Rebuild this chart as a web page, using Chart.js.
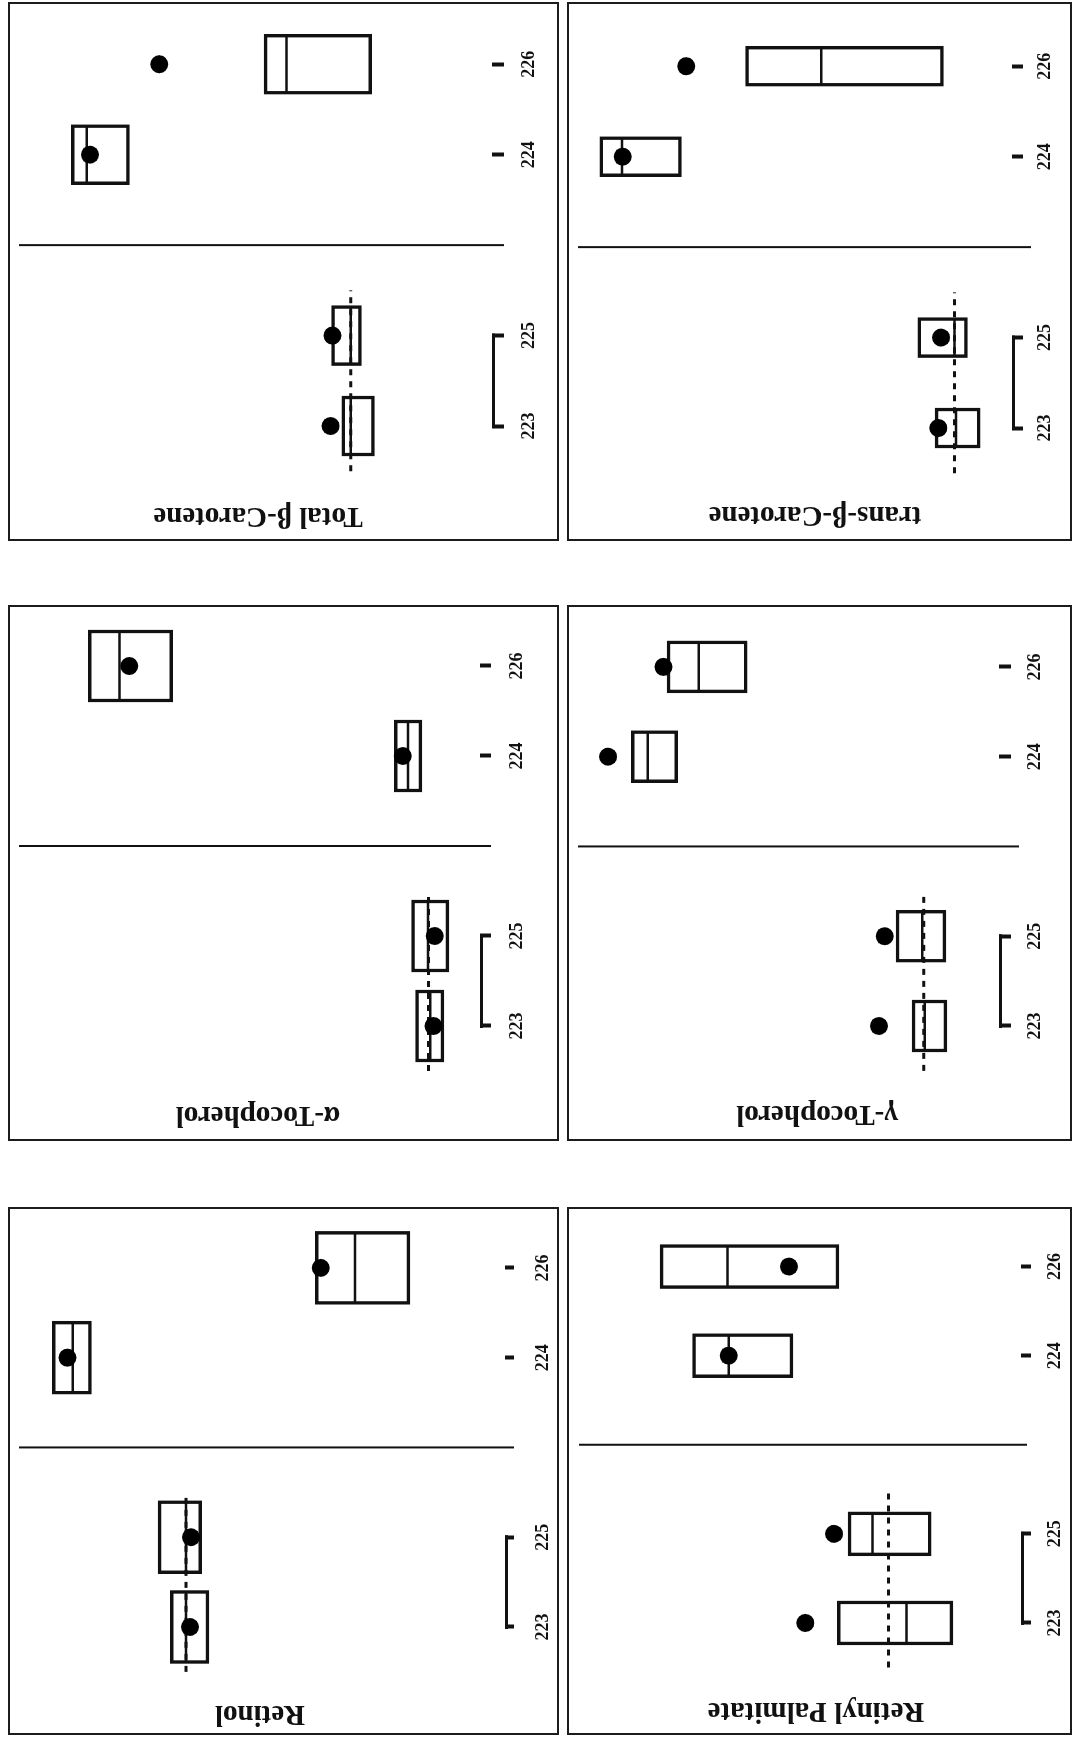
<!DOCTYPE html>
<html>
<head>
<meta charset="utf-8">
<script src="https://cdn.jsdelivr.net/npm/chart.js@4.4.1/dist/chart.umd.min.js"></script>
<style>
html, body { margin:0; padding:0; background:#fff; width:1075px; height:1738px; overflow:hidden; }
#page { position:absolute; left:0; top:0; width:1738px; height:1075px; transform-origin:0 0; transform:translate(0px,1738px) rotate(-90deg); }
.frame { position:absolute; border:2px solid #1c1c1c; box-sizing:border-box; }
.plot { position:absolute; }
</style>
</head>
<body>
<div id="page"></div>
<script>
// ---------- data ----------
const categories = ['223', '225', '224', '226'];
const groupA = ['223', '225'];
const groupB = ['224', '226'];
const tickLabels = [...groupA, '', ...groupB];

const titles = ['Retinol', 'α-Tocopherol', 'Total β-Carotene', 'Retinyl Palmitate', 'γ-Tocopherol', 'trans-β-Carotene'];

// values in relative units (0 = axis, 100 = top of plotting range), order = categories
const retinolLow    = [60.4, 61.9, 84.4, 19.4];
const retinolHigh   = [68.3, 70.8, 92.4, 38.7];
const retinolMedian = [65.1, 65.1, 88.2, 30.6];
const retinolMean   = [64.3, 64.1, 89.3, 37.6];
const retinolRef    = 65.1;

const alphaLow    = [8.1, 7.0, 13.1, 69.2];
const alphaHigh   = [14.5, 15.4, 19.3, 88.2];
const alphaMedian = [11.2, 11.7, 16.2, 81.2];
const alphaMean   = [10.5, 10.2, 17.4, 79.0];
const alphaRef    = 11.6;

const totalBetaLow    = [25.1, 27.9, 77.5, 25.7];
const totalBetaHigh   = [32.1, 34.3, 89.9, 48.7];
const totalBetaMedian = [30.2, 30.2, 86.6, 43.9];
const totalBetaMean   = [34.5, 34.1, 85.9, 71.1];
const totalBetaRef    = 30.2;

const palmitateLow    = [16.6, 21.9, 55.6, 44.4];
const palmitateHigh   = [44.8, 42.2, 80.1, 88.0];
const palmitateMedian = [27.9, 36.2, 71.3, 71.6];
const palmitateMean   = [52.6, 45.6, 71.3, 56.6];
const palmitateRef    = 32.3;

const gammaLow    = [14.3, 14.6, 88.3, 69.2];
const gammaHigh   = [23.9, 28.3, 101.0, 91.2];
const gammaMedian = [20.4, 21.1, 96.5, 82.5];
const gammaMean   = [33.0, 31.4, 107.4, 92.2];
const gammaRef    = 20.7;

const transBetaLow    = [8.1, 11.3, 83.9, 17.4];
const transBetaHigh   = [19.5, 23.9, 104.6, 67.6];
const transBetaMedian = [14.2, 14.6, 99.0, 48.4];
const transBetaMean   = [18.7, 18.0, 98.8, 82.7];
const transBetaRef    = 14.6;

const panels = [
  {title: titles[0], low: retinolLow,   high: retinolHigh,   median: retinolMedian,   mean: retinolMean,   ref: retinolRef},
  {title: titles[1], low: alphaLow,     high: alphaHigh,     median: alphaMedian,     mean: alphaMean,     ref: alphaRef},
  {title: titles[2], low: totalBetaLow, high: totalBetaHigh, median: totalBetaMedian, mean: totalBetaMean, ref: totalBetaRef},
  {title: titles[3], low: palmitateLow, high: palmitateHigh, median: palmitateMedian, mean: palmitateMean, ref: palmitateRef},
  {title: titles[4], low: gammaLow,     high: gammaHigh,     median: gammaMedian,     mean: gammaMean,     ref: gammaRef},
  {title: titles[5], low: transBetaLow, high: transBetaHigh, median: transBetaMedian, mean: transBetaMean, ref: transBetaRef}
];

// ---------- layout (page coordinates before the page is turned) ----------
const layouts = [
  {frame:[3, 8, 528, 551],     c0:111,  c4:470,  tx:24,   ty:260, axis:505,  tl:9,  lab:543,  sepTop:19,  sepBot:514,  boxW:73},
  {frame:[597, 8, 536, 551],   c0:712,  c4:1072, tx:623,  ty:258, axis:480,  tl:11, lab:517,  sepTop:19,  sepBot:491,  boxW:72},
  {frame:[1197, 8, 539, 551],  c0:1312, c4:1674, tx:1222, ty:258, axis:492,  tl:12, lab:529,  sepTop:19,  sepBot:504,  boxW:60},
  {frame:[3, 567, 528, 505],   c0:115,  c4:471,  tx:27,   ty:816, axis:1021, tl:10, lab:1055, sepTop:579, sepBot:1027, boxW:44},
  {frame:[597, 567, 536, 505], c0:712,  c4:1071, tx:624,  ty:817, axis:999,  tl:12, lab:1035, sepTop:578, sepBot:1019, boxW:52},
  {frame:[1197, 567, 539, 505],c0:1310, c4:1672, tx:1223, ty:815, axis:1012, tl:11, lab:1045, sepTop:578, sepBot:1031, boxW:40}
];

const INK = '#111';
const TITLE_SIZE = 29, LABEL_SIZE = 18;
const TITLE_LH = TITLE_SIZE * 1.2, LABEL_LH = LABEL_SIZE * 1.2;
Chart.defaults.font.family = "'Liberation Serif', 'DejaVu Serif', serif";

const withGap = arr => [...arr.slice(0, groupA.length), null, ...arr.slice(groupA.length)];

const panelDecor = {
  id: 'panelDecor',
  beforeDatasetsDraw(chart) {
    // marks may sit above the top of the (title-centred) plotting range: let them draw there
    chart._savedTop = chart.chartArea.top;
    chart.chartArea.top -= 200;
  },
  afterDatasetsDraw(chart) {
    chart.chartArea.top = chart._savedTop;
  },
  afterDraw(chart, args, opts) {
    const x = chart.scales.x;
    const ctx = chart.ctx;
    ctx.save();
    ctx.strokeStyle = INK;
    ctx.lineCap = 'butt';
    // separator between the two groups
    const gx = x.getPixelForValue(groupA.length);
    ctx.lineWidth = 2;
    ctx.beginPath();
    ctx.moveTo(gx, opts.sepTop);
    ctx.lineTo(gx, opts.sepBottom);
    ctx.stroke();
    // axis segment joining the first group
    const a0 = x.getPixelForValue(0), a1 = x.getPixelForValue(groupA.length - 1);
    ctx.lineWidth = 3;
    ctx.beginPath();
    ctx.moveTo(a0 - 2, x.top + 1.5);
    ctx.lineTo(a1 + 2, x.top + 1.5);
    ctx.stroke();
    ctx.restore();
  }
};

const page = document.getElementById('page');
const n = tickLabels.length;

function buildChart(p, lay, g) {
  const cv = document.createElement('canvas');
  cv.className = 'plot';
  cv.width = g.W; cv.height = g.H;
  cv.style.left = g.CL + 'px';
  cv.style.top = g.CT + 'px';
  cv.style.width = g.W + 'px';
  cv.style.height = g.H + 'px';
  page.appendChild(cv);

  const hi = withGap(p.high);
  const boxes = withGap(p.low).map((v, k) => v == null ? null : [v, hi[k]]);

  const chart = new Chart(cv, {
    type: 'bar',
    data: {
      labels: tickLabels,
      datasets: [
        {type: 'bar', data: boxes, backgroundColor: '#fff', borderColor: INK, borderWidth: 3.5,
         borderSkipped: false, grouped: false, barThickness: lay.boxW, maxBarThickness: lay.boxW,
         categoryPercentage: 1, barPercentage: 1, order: 4, clip: false},
        {type: 'line', xAxisID: 'xr', data: [{x: -0.5, y: p.ref}, {x: groupA.length - 0.5, y: p.ref}],
         borderColor: INK, borderWidth: 3, borderDash: [6, 6], pointRadius: 0, order: 3, clip: false},
        {type: 'line', data: withGap(p.median), showLine: false, pointStyle: 'line',
         pointRadius: lay.boxW / 2 - 1.75, pointBorderWidth: 2.5, pointBorderColor: INK, order: 2, clip: false},
        {type: 'line', data: withGap(p.mean), showLine: false, pointStyle: 'circle', pointRadius: 9,
         pointBackgroundColor: '#000', pointBorderWidth: 0, order: 1, clip: false}
      ]
    },
    options: {
      responsive: false,
      maintainAspectRatio: false,
      animation: false,
      events: [],
      layout: {autoPadding: false, padding: {top: g.padTop, left: 0, right: 0, bottom: 0}},
      scales: {
        x: {
          type: 'category', offset: true,
          grid: {display: true, drawOnChartArea: false, drawTicks: true, tickLength: lay.tl, tickWidth: 4,
                 tickColor: c => c.index === groupA.length ? 'rgba(0,0,0,0)' : INK, offset: false},
          border: {display: false},
          ticks: {padding: g.tickPad, autoSkip: false, maxRotation: 0, minRotation: 0, color: INK,
                  font: {size: LABEL_SIZE, weight: 'bold'}}
        },
        xr: {type: 'linear', display: false, offset: false, min: -0.5, max: n - 0.5},
        y: {
          type: 'linear', min: 0, max: 100,
          grid: {display: false, drawTicks: false},
          border: {display: false},
          ticks: {display: false},
          title: {display: true, text: p.title, color: INK, font: {size: TITLE_SIZE, weight: 'bold'},
                  padding: {top: 0, bottom: g.titlePad}}
        }
      },
      plugins: {
        legend: {display: false},
        tooltip: {enabled: false},
        panelDecor: {sepTop: lay.sepTop - g.CT, sepBottom: lay.sepBot - g.CT}
      }
    },
    plugins: [panelDecor]
  });
  return {chart, cv};
}

layouts.forEach((lay, i) => {
  const p = panels[i];
  const fr = document.createElement('div');
  fr.className = 'frame';
  fr.style.left = lay.frame[0] + 'px';
  fr.style.top = lay.frame[1] + 'px';
  fr.style.width = lay.frame[2] + 'px';
  fr.style.height = lay.frame[3] + 'px';
  page.appendChild(fr);

  const u = (lay.c4 - lay.c0) / (n - 1);
  const L = lay.c0 - u / 2, R = lay.c4 + u / 2;
  const CL = Math.round(lay.tx - TITLE_LH / 2);
  const CT = lay.frame[1] + 2;
  const chartTop = 2 * lay.ty - lay.axis;
  const tickPad = lay.lab - lay.axis - lay.tl - LABEL_LH / 2;
  const g = {
    CL, CT, tickPad,
    titlePad: L - CL - TITLE_LH,
    W: Math.round(R - CL),
    padTop: chartTop - CT,
    H: Math.round(lay.axis + lay.tl + 2 * tickPad + LABEL_LH - CT)
  };
  // fit pass: let the library lay out, then correct the box sizes so the plot area lands where wanted
  for (let it = 0; it < 3; it++) {
    const {chart, cv} = buildChart(p, lay, g);
    const xs = chart.scales.x;
    const dA = (L - CL) - xs.left;
    const dB = (R - CL) - xs.right;
    const dT = (chartTop - CT) - chart.chartArea.top;
    const dBot = (lay.axis - CT) - xs.top;
    const done = Math.abs(dA) < 0.5 && Math.abs(dB) < 0.5 && Math.abs(dT) < 0.5 && Math.abs(dBot) < 0.5;
    if (done || it === 2) break;
    chart.destroy();
    cv.remove();
    g.titlePad += dA;
    g.W = Math.round(g.W + dB);
    g.padTop += dT;
    g.H = Math.round(g.H + dBot);
  }
});
</script>
</body>
</html>
